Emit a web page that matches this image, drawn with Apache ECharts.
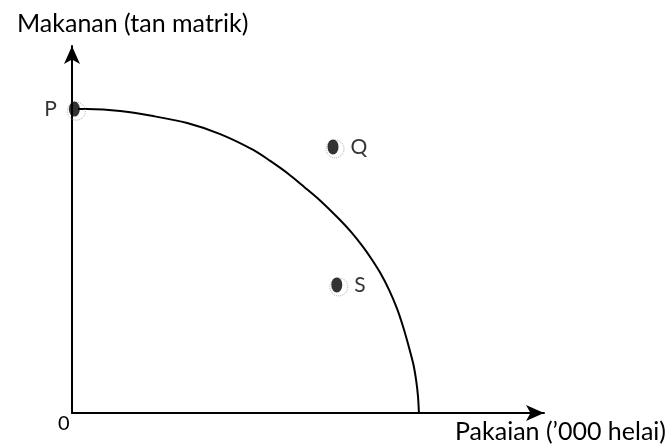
<!DOCTYPE html>
<html>
<head>
<meta charset="utf-8">
<script src="https://cdn.jsdelivr.net/npm/echarts@6/dist/echarts.min.js"></script>
<style>
  html, body { margin: 0; padding: 0; background: #fff; }
  #chart { width: 668px; height: 444px; }
</style>
</head>
<body>
<div id="chart"></div>
<script>
  // curve (x: '000 helai, y: tan matrik)
  var curveX = [1.3, 3.2, 10.2, 17.2, 24.4, 31.4, 38.4, 42.0, 45.6, 49.2, 52.5, 56.8, 59.3, 61.7,
    63.6, 65.3, 67.2, 68.9, 70.1, 71.2, 72.3, 72.9, 73.3, 73.5]
  var curveY = [82.8, 82.8, 82.3, 80.9, 79.0, 76.0, 71.7, 68.7, 65.4, 61.6, 58.0, 52.6, 49.1, 45.2,
    41.7, 38.2, 33.5, 28.3, 23.7, 18.8, 13.4, 9.0, 4.6, 0]

  var pointNames = ['P', 'Q', 'S']
  var pointX = [0.5, 55.3, 56.1]
  var pointY = [82.8, 72.5, 34.9]

  var yTitle = 'Makanan (tan matrik)'
  var xTitle = 'Pakaian (\u2019000 helai)'
  var originLabel = '0'

  var font = 'Lato, "Open Sans", sans-serif'

  var curve = curveX.map(function (x, i) { return [x, curveY[i]] })
  var points = pointX.map(function (x, i) {
    return {
      name: pointNames[i],
      value: [x, pointY[i]],
      // P sits on the axis, its label goes on the left
      label: { position: pointNames[i] === 'P' ? 'left' : 'right' }
    }
  })

  var axisCommon = {
    type: 'value',
    min: 0,
    max: 100,
    axisLine: {
      show: true,
      symbol: ['none', 'arrow'],
      symbolSize: [12, 18],
      lineStyle: { color: '#000', width: 2 }
    },
    axisTick: { show: false },
    axisLabel: { show: false },
    splitLine: { show: false }
  }

  var myChart = echarts.init(document.getElementById('chart'))
  myChart.setOption({
    animation: false,
    grid: { left: 72, right: 124, top: 46, bottom: 31 },
    xAxis: axisCommon,
    yAxis: axisCommon,
    graphic: [
      { type: 'text', left: 17, top: 11, style: { text: yTitle, font: '25px ' + font, fill: '#000' } },
      { type: 'text', left: 455, top: 419, style: { text: xTitle, font: '25px ' + font, fill: '#000' } },
      { type: 'text', left: 58, top: 414, style: { text: originLabel, font: '20px ' + font, fill: '#000' } }
    ],
    series: [
      {
        type: 'line',
        data: curve,
        smooth: 0.3,
        showSymbol: false,
        lineStyle: { color: '#000', width: 2 },
        z: 2
      },
      {
        type: 'scatter',
        data: points.map(function (d) { return d.value }),
        symbol: 'circle',
        symbolSize: 18,
        symbolOffset: [2, 2],
        itemStyle: { color: 'transparent', borderColor: '#999', borderType: 'dotted', borderWidth: 1 },
        z: 3,
        silent: true
      },
      {
        type: 'scatter',
        data: points,
        symbol: 'circle',
        symbolSize: [11, 15],
        itemStyle: { color: '#000' },
        label: {
          show: true,
          formatter: '{b}',
          distance: 12,
          color: '#000',
          fontSize: 21,
          fontFamily: font
        },
        z: 4
      }
    ]
  })
</script>
</body>
</html>
